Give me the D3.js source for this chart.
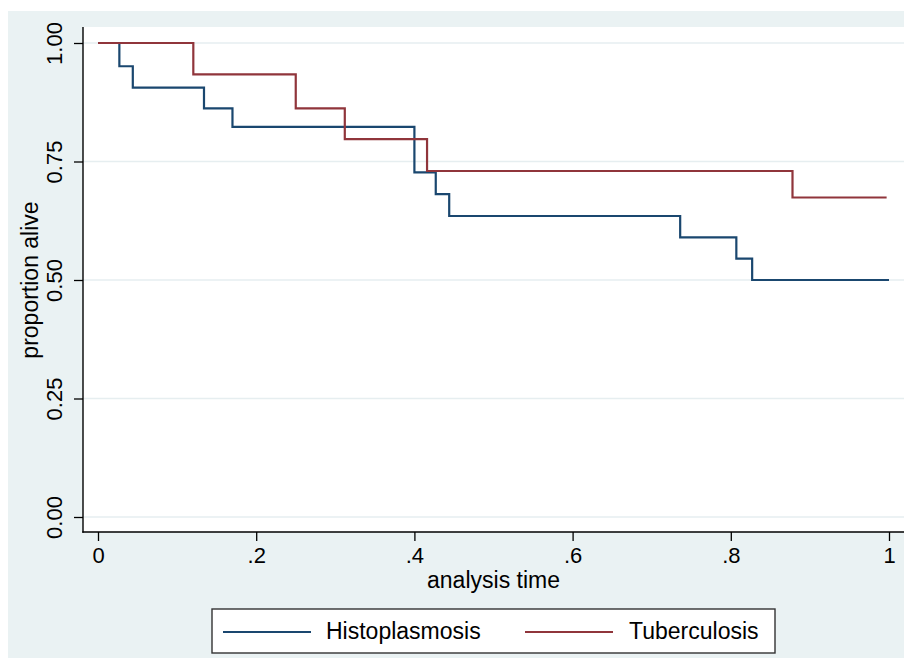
<!DOCTYPE html>
<html>
<head>
<meta charset="utf-8">
<script src="https://cdn.jsdelivr.net/npm/d3@7/dist/d3.min.js"></script>
<style>
  html, body { margin: 0; padding: 0; background: #ffffff; }
  svg { display: block; }
  text { font-family: "Liberation Sans", Arial, Helvetica, sans-serif; fill: #000; }
</style>
</head>
<body>
<svg id="chart" width="904" height="660"></svg>
<script>
// ---- data ----
const seriesNames = ["Histoplasmosis", "Tuberculosis"];
const histoTime = [0, 0.027, 0.044, 0.134, 0.170, 0.400, 0.427, 0.444, 0.736, 0.807, 0.827, 1.000];
const histoSurv = [1.000, 0.951, 0.906, 0.862, 0.823, 0.727, 0.681, 0.635, 0.590, 0.545, 0.500, 0.500];
const tbTime = [0, 0.1205, 0.250, 0.312, 0.416, 0.878, 0.997];
const tbSurv = [1.000, 0.934, 0.862, 0.797, 0.730, 0.674, 0.674];
const xTicks = [0, 0.2, 0.4, 0.6, 0.8, 1];
const yTicks = [0, 0.25, 0.5, 0.75, 1];
const xTitle = "analysis time";
const yTitle = "proportion alive";

// ---- styles ----
const colors = ["#1a476f", "#90353b"];
const bgColor = "#eaf2f3";
const gridColor = "#e6eef0";

const svg = d3.select("#chart");

// outer background (graph region)
svg.append("rect").attr("x", 8).attr("y", 11).attr("width", 896).attr("height", 647).attr("fill", bgColor);

// plot region
const plotLeft = 83, plotRight = 904, plotTop = 27, plotBottom = 532;
svg.append("rect").attr("x", plotLeft).attr("y", plotTop)
  .attr("width", plotRight - plotLeft).attr("height", plotBottom - plotTop).attr("fill", "#ffffff");

const x = d3.scaleLinear().domain([0, 1]).range([98, 889]);
const y = d3.scaleLinear().domain([0, 1]).range([517, 43]);

// gridlines
svg.append("g").selectAll("line").data(yTicks).join("line")
  .attr("x1", plotLeft).attr("x2", plotRight)
  .attr("y1", d => y(d)).attr("y2", d => y(d))
  .attr("stroke", gridColor).attr("stroke-width", 1.6);

// curves
const line = d3.line().x(d => x(d[0])).y(d => y(d[1])).curve(d3.curveStepAfter);
const series = [
  d3.zip(histoTime, histoSurv),
  d3.zip(tbTime, tbSurv)
];
svg.append("g").selectAll("path").data(series).join("path")
  .attr("d", line)
  .attr("fill", "none")
  .attr("stroke", (d, i) => colors[i])
  .attr("stroke-width", 2.2)
  .attr("stroke-linejoin", "miter");

// y axis
const yAxis = d3.axisLeft(y).tickValues(yTicks).tickFormat(d3.format(".2f")).tickSize(9).tickSizeOuter(0);
const gy = svg.append("g").attr("transform", `translate(${plotLeft},0)`).call(yAxis);
gy.select(".domain").remove();
gy.selectAll(".tick line").attr("stroke", "#000").attr("stroke-width", 1.3);
gy.selectAll(".tick text")
  .attr("transform", "rotate(-90)")
  .attr("x", 0).attr("y", -21).attr("dy", 0)
  .attr("text-anchor", "middle")
  .style("font-size", "22px")
  .style("font-family", "'Liberation Sans', Arial, sans-serif")
  .attr("fill", "#000");

// x axis
const fmtX = d => d === 0 ? "0" : d === 1 ? "1" : d3.format(".1f")(d).replace(/^0/, "");
const xAxis = d3.axisBottom(x).tickValues(xTicks).tickFormat(fmtX).tickSize(9).tickSizeOuter(0);
const gx = svg.append("g").attr("transform", `translate(0,${plotBottom})`).call(xAxis);
gx.select(".domain").remove();
gx.selectAll(".tick line").attr("stroke", "#000").attr("stroke-width", 1.3);
gx.selectAll(".tick text")
  .attr("y", 31).attr("dy", 0)
  .style("font-size", "22px")
  .style("font-family", "'Liberation Sans', Arial, sans-serif")
  .attr("fill", "#000");

// axis lines
svg.append("line").attr("x1", plotLeft).attr("x2", plotLeft).attr("y1", plotTop).attr("y2", plotBottom + 0.7)
  .attr("stroke", "#000").attr("stroke-width", 1.4);
svg.append("line").attr("x1", plotLeft - 0.7).attr("x2", plotRight).attr("y1", plotBottom).attr("y2", plotBottom)
  .attr("stroke", "#000").attr("stroke-width", 1.4);

// axis titles
svg.append("text").attr("x", (x(0) + x(1)) / 2).attr("y", 588)
  .attr("text-anchor", "middle").style("font-size", "23px").text(xTitle);
svg.append("text").attr("transform", `translate(38,${(y(0) + y(1)) / 2}) rotate(-90)`)
  .attr("text-anchor", "middle").style("font-size", "23px").text(yTitle);

// legend
const lg = svg.append("g");
lg.append("rect").attr("x", 212).attr("y", 609).attr("width", 563).attr("height", 44)
  .attr("fill", "#ffffff").attr("stroke", "#333").attr("stroke-width", 1.4);
const legendItems = [
  { name: seriesNames[0], color: colors[0], x1: 223, x2: 311, tx: 326 },
  { name: seriesNames[1], color: colors[1], x1: 525, x2: 613, tx: 629 }
];
legendItems.forEach(it => {
  lg.append("line").attr("x1", it.x1).attr("x2", it.x2).attr("y1", 632).attr("y2", 632)
    .attr("stroke", it.color).attr("stroke-width", 2.2);
  lg.append("text").attr("x", it.tx).attr("y", 639).style("font-size", "23px").text(it.name);
});
</script>
</body>
</html>
